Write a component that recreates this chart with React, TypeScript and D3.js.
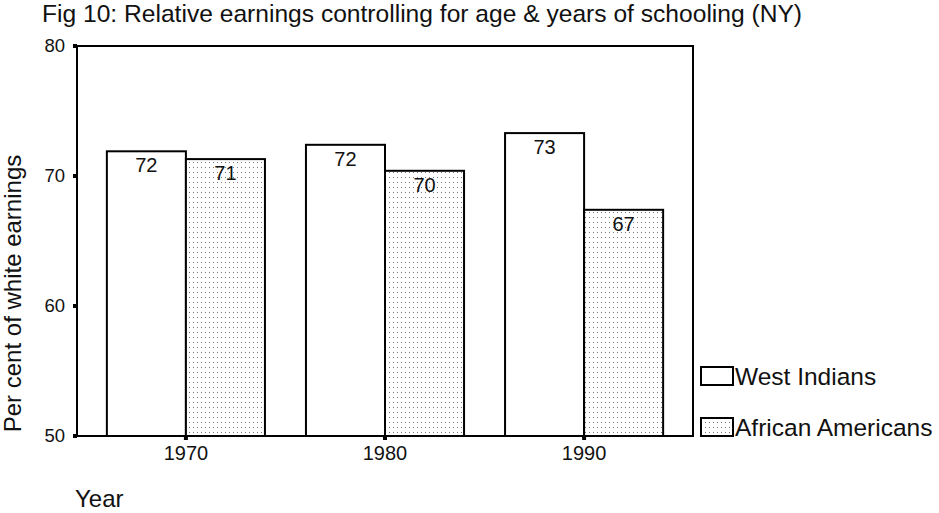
import React from "react";
import * as d3 from "d3";

const years = ["1970", "1980", "1990"];
const westIndians = [71.9, 72.4, 73.3];
const africanAmericans = [71.3, 70.4, 67.4];
const seriesNames = ["West Indians", "African Americans"];
const yTicks = [50, 60, 70, 80];

const W = 939;
const H = 513;
const FONT = "'Liberation Sans', Arial, Helvetica, sans-serif";

export default function App() {
  const left = 77, right = 693, top = 46, bottom = 436;
  const y = d3.scaleLinear().domain([50, 80]).range([bottom, top]);
  const x = d3.scaleBand<string>().domain(years).range([left, right]).paddingInner(0.206).paddingOuter(0.15);
  const xs = d3.scaleBand<string>().domain(seriesNames).range([0, x.bandwidth()]);
  const fmt = d3.format(".0f");
  const series = [westIndians, africanAmericans];

  return (
    <svg width={W} height={H} style={{ position: "absolute", left: 0, top: 0, background: "#fff" }} fontFamily={FONT}>
      <defs>
        <pattern id="dots" width="4" height="5" patternUnits="userSpaceOnUse">
          <rect width="4" height="5" fill="#fff" />
          <rect x="1" y="2" width="1" height="1" fill="#777" />
        </pattern>
      </defs>
      <rect width={W} height={H} fill="#fff" />
      <text x={42} y={22} fontSize={24.6} fill="#111">
        Fig 10: Relative earnings controlling for age &amp; years of schooling (NY)
      </text>

      {/* bars */}
      {years.map((yr, i) =>
        series.map((vals, s) => {
          const bx = (x(yr) as number) + (xs(seriesNames[s]) as number);
          const bw = xs.bandwidth();
          const v = vals[i];
          return (
            <g key={yr + s}>
              <rect x={bx} y={y(v)} width={bw} height={bottom - y(v)} fill={s === 0 ? "#fff" : "url(#dots)"} stroke="#000" strokeWidth={2} />
              <text x={bx + bw / 2} y={y(v) + 21} textAnchor="middle" fontSize={20} fill="#111">
                {fmt(v)}
              </text>
            </g>
          );
        })
      )}

      {/* frame */}
      <rect x={left} y={top} width={right - left} height={bottom - top} fill="none" stroke="#000" strokeWidth={2} />

      {/* y axis ticks */}
      {yTicks.map((t) => (
        <g key={t}>
          <rect x={left - 4} y={y(t) - 2} width={4} height={4} fill="#000" />
          <text x={65} y={y(t) + 6} textAnchor="end" fontSize={18.5} fill="#111">
            {t}
          </text>
        </g>
      ))}

      {/* x axis ticks */}
      {years.map((yr) => {
        const cx = (x(yr) as number) + x.bandwidth() / 2;
        return (
          <g key={yr}>
            <rect x={cx - 2} y={bottom} width={4} height={4} fill="#000" />
            <text x={cx} y={460} textAnchor="middle" fontSize={20} fill="#111">
              {yr}
            </text>
          </g>
        );
      })}

      <text transform={`translate(21,${(155 + 432) / 2}) rotate(-90)`} textAnchor="middle" fontSize={24} fill="#111">
        Per cent of white earnings
      </text>
      <text x={75} y={507} fontSize={24} fill="#111">
        Year
      </text>

      {/* legend */}
      {seriesNames.map((n, s) => {
        const ly = s === 0 ? 367 : 418;
        return (
          <g key={n}>
            <rect x={701} y={ly} width={32} height={18} fill={s === 0 ? "#fff" : "url(#dots)"} stroke="#000" strokeWidth={2} />
            <text x={735} y={ly + 18} fontSize={24.5} fill="#111">
              {n}
            </text>
          </g>
        );
      })}
    </svg>
  );
}
